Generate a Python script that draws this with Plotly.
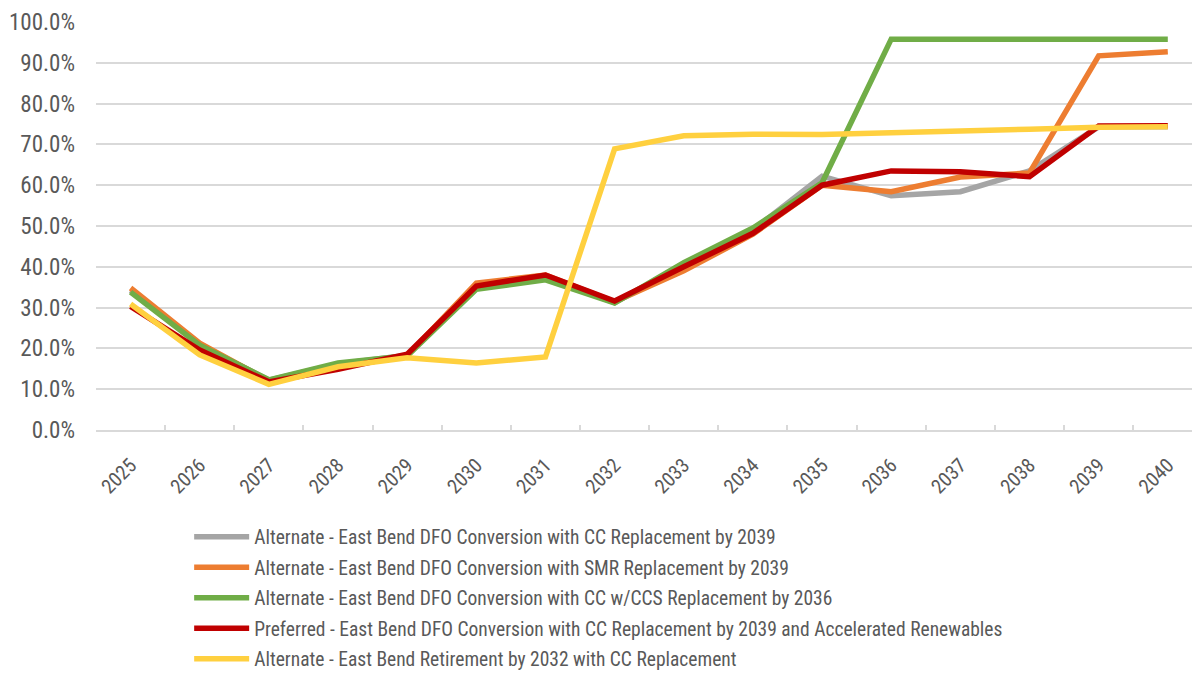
import plotly.graph_objects as go

years = [str(y) for y in range(2025, 2041)]

series_names = [
    "Alternate - East Bend DFO Conversion with CC Replacement by 2039",
    "Alternate - East Bend DFO Conversion with SMR Replacement by 2039",
    "Alternate - East Bend DFO Conversion with CC w/CCS Replacement by 2036",
    "Preferred - East Bend DFO Conversion with CC Replacement by 2039 and Accelerated Renewables",
    "Alternate - East Bend Retirement by 2032 with CC Replacement",
]

cc_2039 = [34.2, 20.9, 12.2, 16.2, 18.3, 35.0, 37.5, 31.2, 40.5, 49.0, 62.2, 57.4, 58.4, 63.5, 74.3, 74.3]
smr_2039 = [34.8, 21.3, 12.0, 16.0, 18.2, 36.0, 38.0, 31.4, 39.0, 48.0, 60.0, 58.4, 62.0, 63.0, 91.7, 92.7]
ccs_2036 = [33.8, 20.8, 12.3, 16.4, 18.2, 34.5, 36.8, 31.1, 41.0, 49.5, 60.6, 95.8, 95.8, 95.8, 95.8, 95.8]
preferred = [30.3, 19.6, 11.8, 14.9, 18.6, 35.3, 38.0, 31.6, 40.0, 48.2, 60.0, 63.5, 63.3, 62.1, 74.5, 74.6]
retire_2032 = [30.9, 18.4, 11.2, 15.5, 17.7, 16.4, 17.9, 68.9, 72.1, 72.5, 72.4, 72.7, 73.3, 73.7, 74.2, 74.3]

colors = ["#A5A5A5", "#ED7D31", "#70AD47", "#C00000", "#FFD03F"]
all_series = [cc_2039, smr_2039, ccs_2036, preferred, retire_2032]

FONT = "Roboto Condensed, Liberation Sans Narrow, Arial Narrow, sans-serif"
TEXT = "#595959"
GRID = "#D9D9D9"

fig = go.Figure()
for i, (name, vals, col) in enumerate(zip(series_names, all_series, colors)):
    fig.add_trace(go.Scatter(
        x=years, y=vals, name=name, mode="lines",
        line=dict(color=col, width=5.5),
        legendgroup=f"g{i}",
    ))

fig.update_layout(
    width=1192, height=673,
    margin=dict(l=96, r=0, t=22, b=243),
    paper_bgcolor="white", plot_bgcolor="white",
    font=dict(family=FONT, color=TEXT),
    showlegend=True,
    legend=dict(
        x=0.085, xref="paper", y=0.2311, yref="container",
        xanchor="left", yanchor="top",
        orientation="v", itemwidth=55, tracegroupgap=2.2,
        font=dict(size=19.5, color=TEXT, family=FONT),
        bgcolor="rgba(0,0,0,0)",
    ),
)
fig.update_xaxes(
    type="category", range=[-0.5, 15.35],
    showgrid=False, showline=True, linecolor=GRID, linewidth=1.5,
    ticks="inside", tickson="boundaries", ticklen=5, tickcolor=GRID, tickwidth=1.5,
    tickangle=-45, ticklabelstandoff=14,
    tickfont=dict(size=20, color=TEXT, family=FONT),
)
fig.update_yaxes(
    range=[0, 100], dtick=10, tick0=0,
    tickformat=".1f", ticksuffix="%",
    showgrid=True, gridcolor=GRID, gridwidth=1.5,
    zeroline=False, showline=False, ticks="", ticklabelstandoff=20,
    tickfont=dict(size=23, color=TEXT, family=FONT),
)

fig.write_html("out.html")
